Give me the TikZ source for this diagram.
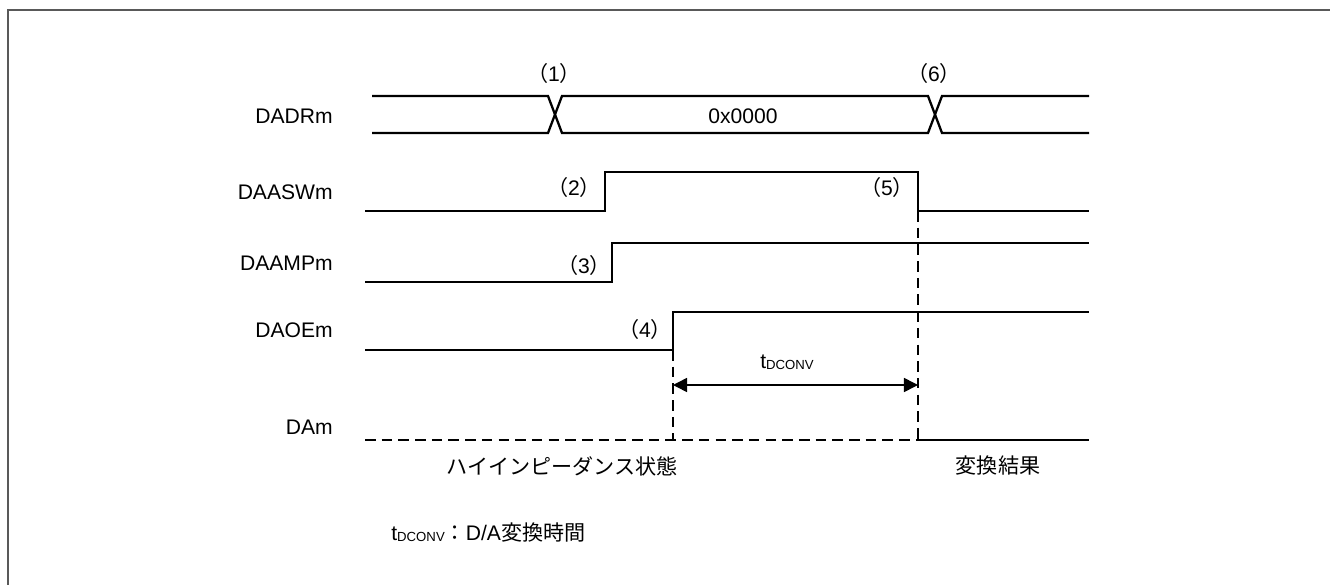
\documentclass[tikz,border=0pt]{standalone}
\usepackage{fontspec}
\setmainfont{Liberation Sans}
\newfontfamily\jp{Noto Sans CJK JP}
\usetikzlibrary{arrows.meta,positioning}
\newcommand{\sigfont}{\fontsize{12}{14}\selectfont}
\newcommand{\tdconv}{t\raisebox{-0.3pt}{\fontsize{7.5}{8}\selectfont DCONV}}
\newcommand{\evno}[1]{{\jp （}#1{\jp ）}}

\begin{document}
\begin{tikzpicture}[
  x=0.02cm, y=-0.02cm,
  wave/.style={line width=1.3pt},
  hiz/.style={line width=1.3pt, dash pattern=on 6pt off 3.5pt},
  signame/.style={anchor=east, inner sep=0pt, font=\sigfont},
  evnum/.style={inner sep=0pt, font=\sigfont},
  note/.style={inner sep=0pt, font=\sigfont}
]
  \useasboundingbox (0,0) rectangle (1330,585);
  \draw[black!65, line width=1.2pt] (8,585) -- (8,10) -- (1330,10);

  % signal names
  \node[signame] (dadr) at (333,116) {DADRm};
  \node[signame] (daasw) at (333,192) {DAASWm};
  \node[signame] (daamp) at (333,263) {DAAMPm};
  \node[signame] (daoe) at (333,330) {DAOEm};
  \node[signame] (dam) at (333,427) {DAm};

  % edge points
  \coordinate (swRise) at (605,211);
  \coordinate (swFall) at (918,211);
  \coordinate (ampRise) at (612,282);
  \coordinate (oeRise) at (673,350);
  \coordinate (daZ) at (673,440);
  \coordinate (daOut) at (918,440);
  \coordinate (convL) at (673,385);
  \coordinate (convR) at (918,385);

  % DADRm bus
  \draw[wave] (372,96) -- (548,96) -- (562,133) -- (928,133) -- (942,96) -- (1089,96);
  \draw[wave] (372,133) -- (548,133) -- (562,96) -- (928,96) -- (942,133) -- (1089,133);
  \node[note] (val) at (743,116) {0x0000};

  % DAASWm, DAAMPm, DAOEm
  \draw[wave] (365,211) -- (swRise) -- (605,172) -- (918,172) -- (swFall) -- (1089,211);
  \draw[wave] (365,282) -- (ampRise) -- (612,243) -- (1089,243);
  \draw[wave] (365,350) -- (oeRise) -- (673,312) -- (1089,312);

  % DAm
  \draw[hiz] (365,440) -- (daOut);
  \draw[wave] (daOut) -- (1089,440);
  \draw[hiz] (oeRise) -- (daZ);
  \draw[hiz] (swFall) -- (daOut);
  \draw[line width=0.9pt, {Triangle[length=8pt,width=8pt]}-{Triangle[length=8pt,width=8pt]}]
    (convL) -- (convR);
  \node[note] (tconv) at (787,362) {\tdconv};

  % event numbers
  \node[evnum] (e1) at (554,73) {\evno{1}};
  \node[evnum] (e2) at (574,187) {\evno{2}};
  \node[evnum] (e3) at (584,265) {\evno{3}};
  \node[evnum] (e4) at (645,329) {\evno{4}};
  \node[evnum] (e5) at (887,187) {\evno{5}};
  \node[evnum] (e6) at (934,73) {\evno{6}};

  \node[note, font=\jp\sigfont] (hiZ) at (562,466) {ハイインピーダンス状態};
  \node[note, font=\jp\sigfont] (result) at (998,466) {変換結果};
  \node[note, anchor=west] (foot) at (391,533) {\tdconv{\jp ：}D/A{\jp 変換時間}};
\end{tikzpicture}
\end{document}
